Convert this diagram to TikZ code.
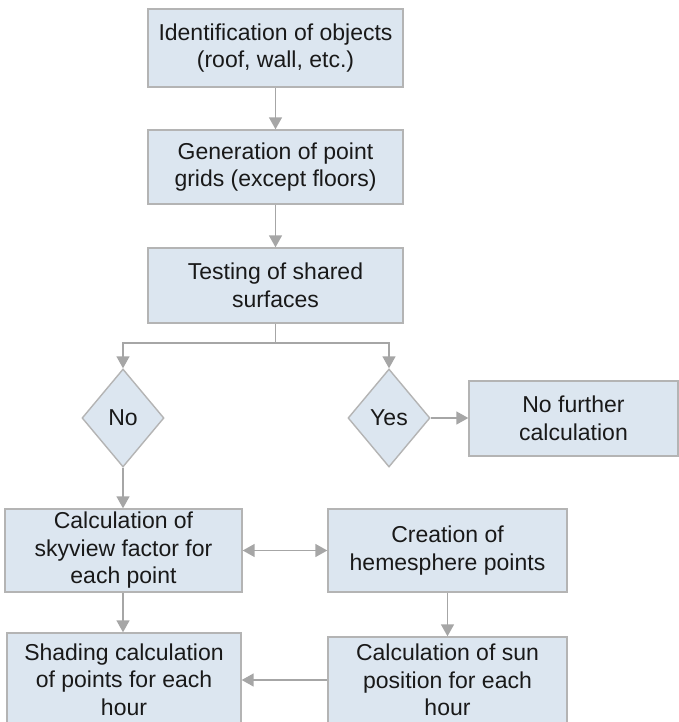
\documentclass[tikz,border=0pt]{standalone}
\usepackage{fontspec}
\setmainfont{Liberation Sans}
\usetikzlibrary{arrows.meta,shapes.geometric}
\definecolor{boxfill}{HTML}{DCE6F0}
\definecolor{boxline}{HTML}{B4B4B4}
\definecolor{arrowcol}{HTML}{A6A6A6}
\begin{document}
\begin{tikzpicture}[x=1pt,y=1pt,
  every node/.style={font=\fontsize{23}{27.5}\selectfont, text=black!90},
  stepbox/.style={draw=boxline, fill=boxfill, line width=1.4pt, rectangle, align=center, inner sep=0pt},
  decision/.style={draw=boxline, fill=boxfill, line width=1.4pt, shape=diamond, inner sep=0pt, minimum width=82pt, minimum height=98pt},
  conn/.style={draw=arrowcol, line width=1.5pt, -{Triangle[length=12pt,width=13pt]}},
  bconn/.style={draw=arrowcol, line width=1.5pt, {Triangle[length=12pt,width=13pt]}-{Triangle[length=12pt,width=13pt]}}
]
\useasboundingbox (0,0) rectangle (678,-722);
\fill[white] (0,0) rectangle (678,-722);

\node[stepbox, minimum width=255pt, minimum height=78pt] (b1) at (275.5,-48) {Identification of objects\\(roof, wall, etc.)};
\node[stepbox, minimum width=255pt, minimum height=74pt] (b2) at (275.5,-167) {Generation of point\\grids (except floors)};
\node[stepbox, minimum width=255pt, minimum height=75pt] (b3) at (275.5,-285.5) {Testing of shared\\surfaces};

\node[decision] (no) at (123,-418) {};
\node (notext) at (no.center) {No};
\node[decision] (yes) at (389,-418) {};
\node (yestext) at (yes.center) {Yes};

\node[stepbox, minimum width=209pt, minimum height=75pt] (nf) at (573.5,-418.5) {No further\\calculation};

\node[stepbox, minimum width=237pt, minimum height=83pt] (sky) at (123.5,-550.5) {Calculation of\\skyview factor for\\each point};
\node[stepbox, minimum width=239pt, minimum height=83pt] (hem) at (447.5,-550.5) {Creation of\\hemesphere points};
\node[stepbox, minimum width=234pt, minimum height=93pt] (shade) at (124,-679.5) {Shading calculation\\of points for each\\hour};
\node[stepbox, minimum width=239pt, minimum height=86pt] (sun) at (447.5,-680) {Calculation of sun\\position for each\\hour};

\coordinate (split) at (275.5,-343);

\draw[conn] (b1) -- (b2);
\draw[conn] (b2) -- (b3);
\draw[draw=arrowcol, line width=1.5pt] (b3.south) -- (split);
\draw[conn] (split) -| (no.north);
\draw[conn] (split) -| (yes.north);
\draw[conn] (yes.east) -- (nf.west |- yes.east);
\draw[conn] (no.south) -- (no.south |- sky.north);
\draw[bconn] (sky.east) -- (hem.west);
\draw[conn] (sky.south -| no.south) -- (no.south |- shade.north);
\draw[conn] (hem.south) -- (sun.north);
\draw[conn] (sun.west) -- (shade.east |- sun.west);
\end{tikzpicture}
\end{document}
